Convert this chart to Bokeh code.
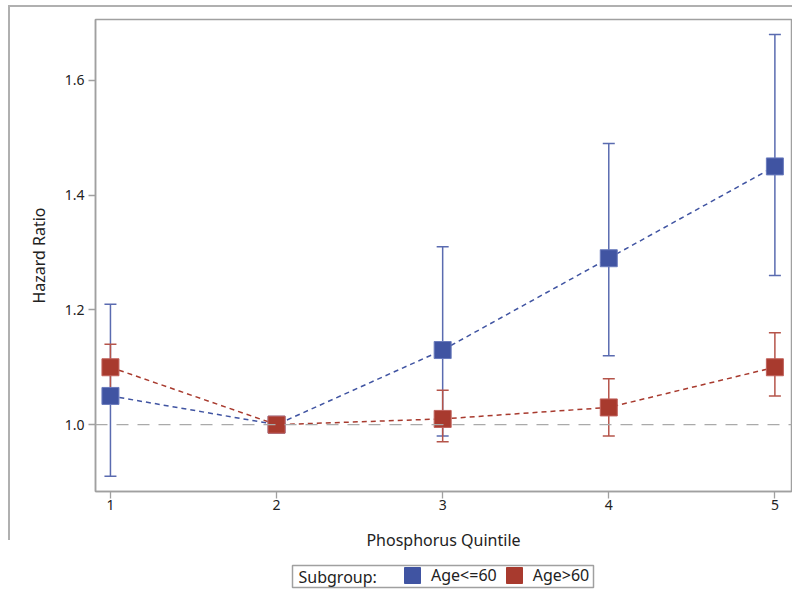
from bokeh.plotting import figure
from bokeh.layouts import column
from bokeh.models import (ColumnDataSource, Whisker, TeeHead, Span, Legend, LegendItem, FixedTicker,
                          Range1d, CustomJSTickFormatter, Label, BoxAnnotation)
from bokeh.embed import file_html
from bokeh.resources import INLINE

quintiles = [1, 2, 3, 4, 5]
young_hr = [1.05, 1.00, 1.13, 1.29, 1.45]
young_lo = [0.91, 1.00, 0.98, 1.12, 1.26]
young_hi = [1.21, 1.00, 1.31, 1.49, 1.68]
old_hr = [1.10, 1.00, 1.01, 1.03, 1.10]
old_lo = [1.06, 1.00, 0.97, 0.98, 1.05]
old_hi = [1.14, 1.00, 1.06, 1.08, 1.16]
y_ticks = [1.0, 1.2, 1.4, 1.6]
series_labels = ["Age<=60", "Age>60"]
legend_title = "Subgroup:"

FONT = "Noto Sans"
BLUE = "#4054A2"
BLUE_BAR = "#5A6BB0"
RED = "#A83A2E"
RED_BAR = "#B5544A"
GRAY = "#A0A0A0"
TXT = "#222222"

p = figure(width=792, height=553, output_backend="svg", toolbar_location=None,
           x_range=Range1d(0.91, 5.10), y_range=Range1d(0.8835, 1.706),
           min_border_left=95, min_border_right=1, min_border_top=19, min_border_bottom=61)
p.border_fill_color = None

p.grid.visible = False
p.outline_line_color = GRAY
p.outline_line_width = 1.5

p.xaxis.ticker = FixedTicker(ticks=quintiles)
p.yaxis.ticker = FixedTicker(ticks=y_ticks)
p.yaxis.formatter = CustomJSTickFormatter(code="return tick.toFixed(1);")
p.xaxis.axis_label = "Phosphorus Quintile"
p.yaxis.axis_label = "Hazard Ratio"
for ax in (p.xaxis, p.yaxis):
    ax.axis_line_color = GRAY
    ax.axis_line_width = 1.5
    ax.major_tick_line_color = GRAY
    ax.major_tick_line_width = 1.3
    ax.major_tick_out = 7
    ax.major_tick_in = 0
    ax.minor_tick_line_color = None
    ax.major_label_text_font = FONT
    ax.major_label_text_font_size = "14px"
    ax.major_label_text_color = TXT
    ax.axis_label_text_font = FONT
    ax.axis_label_text_font_size = "16px"
    ax.axis_label_text_font_style = "normal"
    ax.axis_label_text_color = TXT
p.xaxis.major_label_standoff = 1
p.xaxis.axis_label_standoff = 16
p.yaxis.major_label_standoff = 4
p.yaxis.axis_label_standoff = 12

ref = Span(location=1.0, dimension="width", line_color="#AAAAAA", line_width=1.3, line_dash="12 9")
p.add_layout(ref)

src_y = ColumnDataSource(dict(x=quintiles, hr=young_hr, lo=young_lo, hi=young_hi))
src_o = ColumnDataSource(dict(x=quintiles, hr=old_hr, lo=old_lo, hi=old_hi))

def add_series(src, col, barcol):
    w = Whisker(source=src, base="x", lower="lo", upper="hi", line_color=barcol, line_width=1.5,
                upper_head=TeeHead(size=12, line_color=barcol, line_width=1.5),
                lower_head=TeeHead(size=12, line_color=barcol, line_width=1.5))
    p.add_layout(w)
    p.line("x", "hr", source=src, line_color=col, line_width=1.5, line_dash="5 4")

add_series(src_y, BLUE, BLUE_BAR)
add_series(src_o, RED, RED_BAR)
mk = dict(marker="square", size=17, line_width=1)
p.scatter("x", "hr", source=src_y, fill_color=BLUE, line_color="#6A7BBD", **mk)
p.scatter("x", "hr", source=src_o, fill_color=RED, line_color="#C0605A", **mk)

# legend strip below the chart (its ranges are in pixels of the strip)
lg = figure(width=792, height=46, output_backend="svg", toolbar_location=None,
            x_range=Range1d(95, 791), y_range=Range1d(0, 46),
            min_border_left=95, min_border_right=1, min_border_top=0, min_border_bottom=0)
lg.axis.visible = False
lg.grid.visible = False
lg.outline_line_color = None
ly = lg.quad(left="x", right="x", bottom="lo", top="hi", source=src_y, fill_color=BLUE, line_color=BLUE)
lo_ = lg.quad(left="x", right="x", bottom="lo", top="hi", source=src_o, fill_color=RED, line_color=RED)
lg.add_layout(BoxAnnotation(left=292, right=593, bottom=12, top=34, fill_color=None,
                            line_color=GRAY, line_width=1.5, line_alpha=1))
lg.add_layout(Label(x=298, y=23, text=legend_title, text_font=FONT, text_font_size="16px",
                    text_color=TXT, text_baseline="middle"))
legend = Legend(items=[LegendItem(label=series_labels[0], renderers=[ly]),
                       LegendItem(label=series_labels[1], renderers=[lo_])],
                orientation="horizontal", location=(307, 13),
                label_text_font=FONT, label_text_font_size="16px", label_text_color=TXT,
                border_line_color=None, background_fill_alpha=0,
                glyph_width=20, glyph_height=20, label_height=20,
                spacing=7, padding=0, margin=0, label_standoff=9)
lg.add_layout(legend)

layout = column(p, lg, spacing=0)
layout.styles = {
    "background": ("linear-gradient(#b0b0b0, #b0b0b0) 8px 5px / 2px 535px no-repeat, "
                   "linear-gradient(#b0b0b0, #b0b0b0) 8px 5px / 784px 2px no-repeat, #ffffff"),
}
open("out.html", "w").write(file_html(layout, INLINE))
